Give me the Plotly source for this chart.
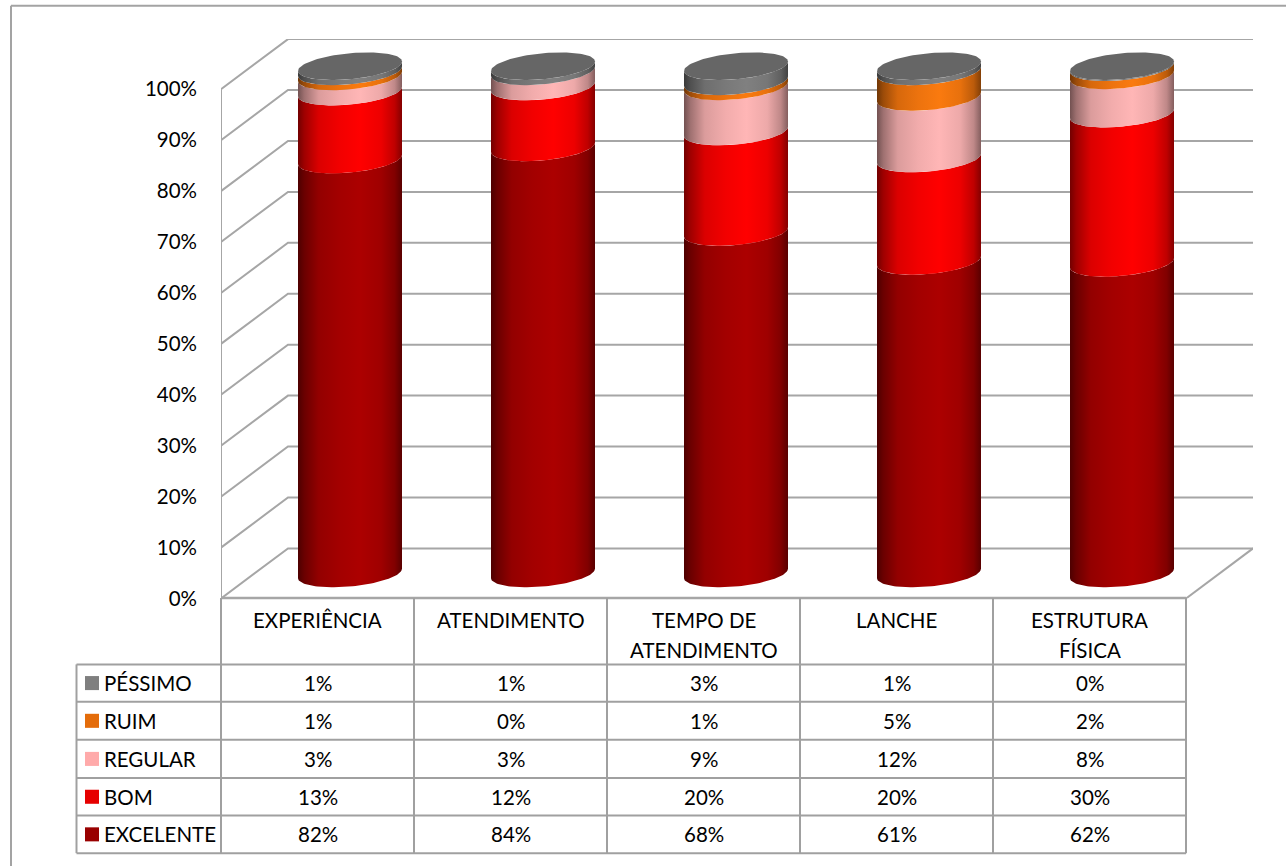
import numpy as np
import plotly.graph_objects as go

categories = ["EXPERIÊNCIA", "ATENDIMENTO", "TEMPO DE<br>ATENDIMENTO", "LANCHE", "ESTRUTURA<br>FÍSICA"]
tick_values = [0, 10, 20, 30, 40, 50, 60, 70, 80, 90, 100]
excelente = [81.6, 84, 68, 61, 61.6]
bom = [13.4, 12, 20, 20, 29.6]
regular = [3, 3, 9, 12, 7.6]
ruim = [1, 0, 1, 5, 1.6]
pessimo = [1, 1, 3, 1, 0.2]

series_names = ["EXCELENTE", "BOM", "REGULAR", "RUIM", "PÉSSIMO"]
series_values = [excelente, bom, regular, ruim, pessimo]
key_colors = ["#990000", "#e60000", "#ffaaaa", "#e46c0a", "#7f7f7f"]
peak_colors = [(172, 0, 0), (255, 0, 0), (255, 182, 182), (250, 122, 15), (128, 128, 128)]
top_color = "#666666"
grid_color = "#a6a6a6"
table_color = "#a0a0a0"
FONT = "Lato"

W, H = 1286, 880
K, OFF = 1.0152, -1.0   # page-to-layout vertical correction


def ly(px):
    return px * K + OFF


LEFT, RIGHT_FRONT, RIGHT_BACK = 221, 1186, 1253
Y0, Y100, YBACK100 = ly(598), ly(90), ly(40)
CAT_PX = (RIGHT_FRONT - LEFT) / 5
PCT_PX = (Y0 - Y100) / 100
DEPTH_X = (RIGHT_BACK - RIGHT_FRONT) / CAT_PX
DEPTH_Y = (Y100 - YBACK100) / PCT_PX
x_range = [-0.5, 4.5 + DEPTH_X]
y_range = [0, 100 + DEPTH_Y]
HALF = 52 / CAT_PX
EL_B = 13 * K / PCT_PX
EL_S = 4.7 * K / PCT_PX
BAR_TOP = 99.6
BAR_SHIFT = -1 / CAT_PX


def py(px):
    return 1 - ly(px) / H


def px_x(px):
    return px / W


fig = go.Figure()

# wall: gridlines (back wall and side wall)
wx, wy = [], []
for v in tick_values:
    wx += [-0.5, -0.5 + DEPTH_X, 4.5 + DEPTH_X, None]
    wy += [v, v + DEPTH_Y, v + DEPTH_Y, None]
wx += [-0.5, -0.5, None, 4.5, 4.5 + DEPTH_X]
wy += [0, 100, None, 0, DEPTH_Y]
fig.add_trace(go.Scatter(x=wx, y=wy, mode="lines", line=dict(color=grid_color, width=2),
                         hoverinfo="skip", showlegend=False, cliponaxis=False))


def shade(rgb):
    stops = [(0, .45), (.06, .62), (.2, .86), (.4, .95), (.6, 1), (.8, .93), (.93, .75), (1, .52)]
    return [[p, "rgb(%d,%d,%d)" % tuple(int(c * m) for c in rgb)] for p, m in stops]


t = np.linspace(0, np.pi, 61)
for i in range(len(categories)):
    values = np.array([s[i] for s in series_values], float)
    cum = np.concatenate([[0], np.cumsum(values)]) / values.sum() * BAR_TOP
    cx = i + DEPTH_X / 2 + BAR_SHIFT
    ax = cx + HALF * np.cos(t)
    arc = EL_S * np.cos(t) - EL_B * np.sin(t) + DEPTH_Y / 2
    for k, name in enumerate(series_names):
        if values[k] == 0:
            continue
        xs = np.concatenate([ax, ax[::-1], ax[:1]])
        ys = np.concatenate([cum[k] + arc, (cum[k + 1] + arc)[::-1], [cum[k] + arc[0]]])
        fig.add_trace(go.Scatter(
            x=xs, y=ys, mode="lines", line=dict(width=0), fill="toself",
            fillgradient=dict(type="horizontal", colorscale=shade(peak_colors[k])),
            name=name, hoverinfo="skip", showlegend=False))
    tt = np.linspace(0, 2 * np.pi, 121)
    fig.add_trace(go.Scatter(
        x=cx + HALF * np.cos(tt),
        y=BAR_TOP + DEPTH_Y / 2 + EL_S * np.cos(tt) + EL_B * np.sin(tt),
        mode="lines", line=dict(width=0), fill="toself", fillcolor=top_color,
        hoverinfo="skip", showlegend=False))

# data table
rows_px = [663.7, 701, 739, 777, 814.5, 852]
shapes = []


def hline(y, x0, x1, color=table_color, width=2):
    shapes.append(dict(type="line", xref="paper", yref="paper", x0=px_x(x0), x1=px_x(x1),
                       y0=py(y), y1=py(y), line=dict(color=color, width=width)))


def vline(x, y0, y1, color=table_color, width=2):
    shapes.append(dict(type="line", xref="paper", yref="paper", x0=px_x(x), x1=px_x(x),
                       y0=py(y0), y1=py(y1), line=dict(color=color, width=width)))


hline(597.5, LEFT, RIGHT_FRONT, grid_color, 2.5)
for r in rows_px:
    hline(r, 76.5, RIGHT_FRONT)
vline(76.5, rows_px[0], rows_px[-1])
for c in range(6):
    vline(LEFT + c * CAT_PX, 597.5, rows_px[-1])

# outer frame
hline(6.8, 11, W, "#a3a3a3", 2)
vline(11, 6.8, 870, "#a3a3a3", 2)

annotations = []
txt = dict(showarrow=False, font=dict(family=FONT, size=20.5, color="#000000"))
header_line_px = [619, 649]
for i, cat in enumerate(categories):
    for j, part in enumerate(cat.split("<br>")):
        annotations.append(dict(text=part, x=i, xref="x", y=py(header_line_px[j]), yref="paper",
                                xanchor="center", yanchor="middle", **txt))
for row, k in enumerate(range(len(series_names) - 1, -1, -1)):
    mid = (rows_px[row] + rows_px[row + 1]) / 2
    annotations.append(dict(text=series_names[k], x=px_x(102), xref="paper", y=py(mid), yref="paper",
                            xanchor="left", yanchor="middle", **txt))
    shapes.append(dict(type="rect", xref="paper", yref="paper", x0=px_x(85), x1=px_x(99),
                       y0=py(mid - 7), y1=py(mid + 7), fillcolor=key_colors[k], line=dict(width=0)))
    for i in range(len(categories)):
        annotations.append(dict(text="%d%%" % round(series_values[k][i]), x=i, xref="x", y=py(mid), yref="paper",
                                xanchor="center", yanchor="middle", **txt))

fig.update_layout(
    width=W, height=H, autosize=False, margin=dict(l=0, r=0, t=0, b=0),
    paper_bgcolor="white", plot_bgcolor="white", showlegend=False,
    xaxis=dict(domain=[px_x(LEFT), px_x(RIGHT_BACK)], range=x_range, showgrid=False, zeroline=False,
               showticklabels=False, ticks="", fixedrange=True),
    yaxis=dict(domain=[1 - Y0 / H, 1 - YBACK100 / H], range=y_range, showgrid=False, zeroline=False,
               tickvals=tick_values, ticktext=["%d%%" % v for v in tick_values], ticks="",
               ticklabelstandoff=23, tickfont=dict(family=FONT, size=20.5, color="#000000"), fixedrange=True),
    shapes=shapes, annotations=annotations,
)
fig.write_html("out.html", post_script="document.body.style.margin='0';document.documentElement.style.overflow='hidden';",
               config=dict(displayModeBar=False, responsive=False))
